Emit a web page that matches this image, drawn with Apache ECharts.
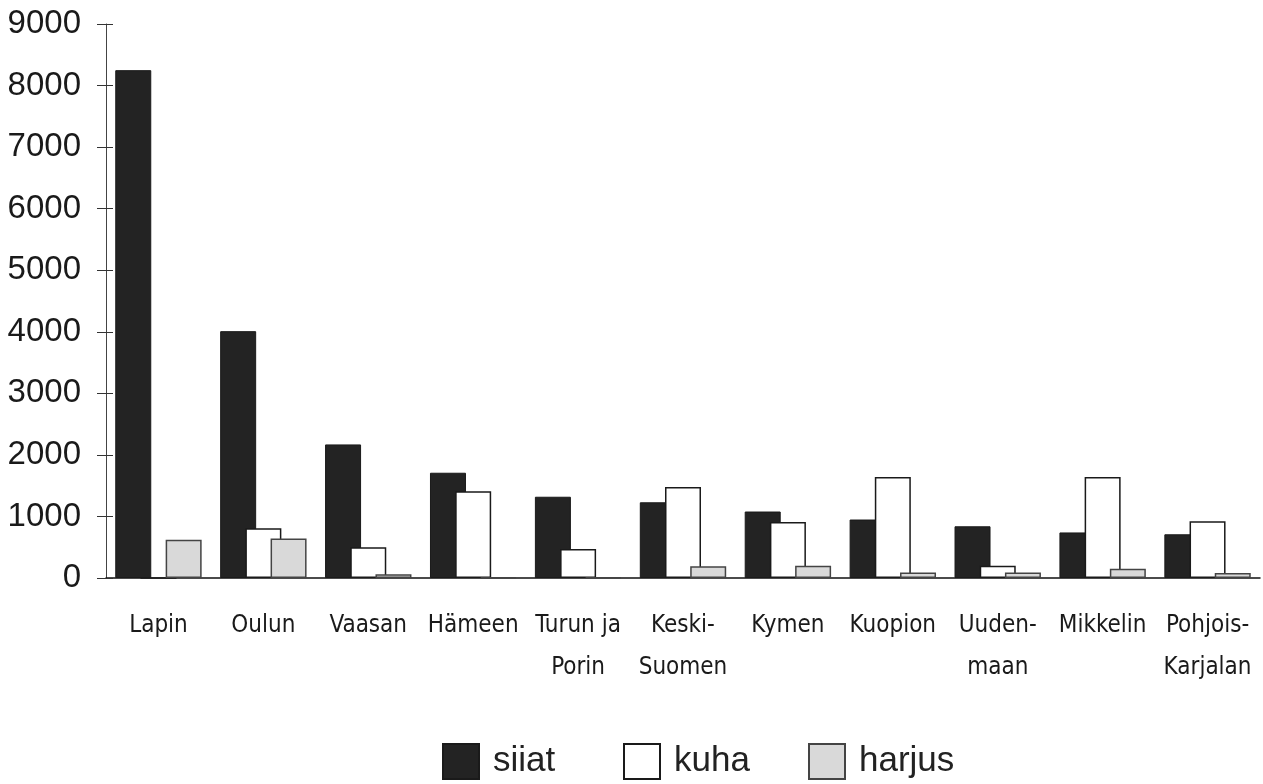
<!DOCTYPE html>
<html>
<head>
<meta charset="utf-8">
<title>siiat, kuha, harjus</title>
<script src="https://cdn.jsdelivr.net/npm/echarts@6/dist/echarts.min.js"></script>
<style>
  html, body {
    margin: 0;
    padding: 0;
    background: #fff;
  }
  #chart {
    width: 1263px;
    height: 784px;
  }
</style>
</head>
<body>
<div id="chart"></div>
<script>
const regions = ['Lapin', 'Oulun', 'Vaasan', 'Hämeen', 'Turun ja\nPorin', 'Keski-\nSuomen', 'Kymen', 'Kuopion', 'Uuden-\nmaan', 'Mikkelin', 'Pohjois-\nKarjalan']
const siiat = [8250, 4010, 2170, 1710, 1320, 1230, 1080, 950, 840, 740, 710]
const kuha = [0, 810, 500, 1410, 470, 1480, 910, 1640, 200, 1640, 920]
const harjus = [620, 640, 60, 10, 10, 190, 200, 90, 90, 150, 80]
const yTicks = [0, 1000, 2000, 3000, 4000, 5000, 6000, 7000, 8000, 9000]
const seriesNames = ['siiat', 'kuha', 'harjus']

const chart = echarts.init(document.getElementById('chart'))

const barBase = {
  type: 'bar',
  barWidth: 36,
  barGap: '-30%',
  xAxisIndex: 0,
  yAxisIndex: 0
}

// one legend per entry so the boxes sit at fixed places like the original
const legendLeft = [437, 618, 803]
const legends = seriesNames.map((name, i) => ({
  left: legendLeft[i],
  top: 738,
  itemWidth: 36,
  itemHeight: 35,
  icon: 'rect',
  textStyle: {
    fontFamily: 'Liberation Sans',
    fontSize: 35,
    color: '#222',
    padding: [0, 0, 0, 9]
  },
  data: [name]
}))

chart.setOption({
  animation: false,
  grid: {
    left: 106,
    right: 3,
    top: 24,
    bottom: 206,
    outerBoundsMode: 'none'
  },
  legend: legends,
  xAxis: [
    {
      type: 'category',
      data: regions,
      axisLine: { lineStyle: { color: '#111', width: 1.5 } },
      axisTick: { length: 9, lineStyle: { color: '#222' } },
      axisLabel: {
        interval: 0,
        margin: 27,
        fontFamily: 'Liberation Sans Narrow, DejaVu Sans Condensed, Liberation Sans',
        fontSize: 24,
        lineHeight: 42,
        color: '#1a1a1a'
      }
    },
    {
      // second axis only for the short tick marks above the line
      type: 'category',
      position: 'bottom',
      data: regions,
      axisLine: { show: false },
      axisTick: { inside: true, length: 6, lineStyle: { color: '#222' } },
      axisLabel: { show: false }
    }
  ],
  yAxis: [
    {
      type: 'value',
      min: yTicks[0],
      max: yTicks[yTicks.length - 1],
      interval: 1000,
      splitLine: { show: false },
      axisLine: { show: true, lineStyle: { color: '#444', width: 1 } },
      axisTick: { show: true, length: 9, lineStyle: { color: '#333' } },
      axisLabel: {
        margin: 25,
        fontFamily: 'Liberation Sans',
        fontSize: 33,
        color: '#1a1a1a',
        formatter: v => String(v)
      }
    },
    {
      type: 'value',
      position: 'left',
      min: yTicks[0],
      max: yTicks[yTicks.length - 1],
      interval: 1000,
      splitLine: { show: false },
      axisLine: { show: false },
      axisTick: { show: true, inside: true, length: 7, lineStyle: { color: '#333' } },
      axisLabel: { show: false }
    }
  ],
  series: [
    {
      ...barBase,
      name: 'siiat',
      data: siiat,
      itemStyle: { color: '#232323', borderColor: '#1a1a1a', borderWidth: 1 }
    },
    {
      ...barBase,
      name: 'kuha',
      data: kuha,
      itemStyle: { color: '#ffffff', borderColor: '#1a1a1a', borderWidth: 1.5 }
    },
    {
      ...barBase,
      name: 'harjus',
      data: harjus,
      itemStyle: { color: '#d9d9d9', borderColor: '#444', borderWidth: 1.5 }
    }
  ]
})
</script>
</body>
</html>
